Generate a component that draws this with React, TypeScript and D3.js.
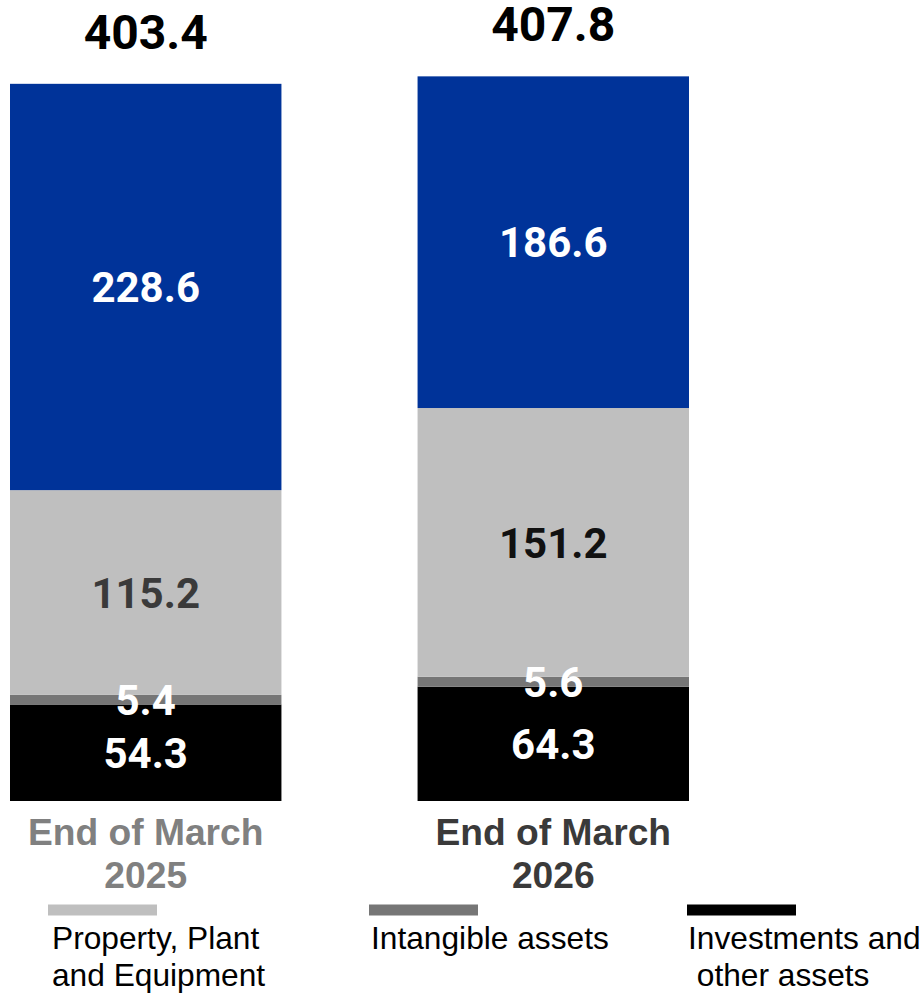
import React from "react";
import * as d3 from "d3";

const categories = ["End of March 2025", "End of March 2026"];
const categoryLines = [["End of March", "2025"], ["End of March", "2026"]];
const seriesNames = ["Investments and other assets", "Intangible assets", "Property, Plant and Equipment", "Other"];
const investments = [54.3, 64.3];
const intangible = [5.4, 5.6];
const ppe = [115.2, 151.2];
const other = [228.6, 186.6];
const totals = [403.4, 407.8];

const seriesColors = ["#000000", "#767676", "#BFBFBF", "#003399"];
const labelColors = [
  ["#ffffff", "#ffffff"],
  ["#ffffff", "#ffffff"],
  ["#3a3a3a", "#111111"],
  ["#ffffff", "#ffffff"],
];
const categoryColors = ["#808080", "#3a3a3a"];

const legendItems = [
  { lines: ["Property, Plant", "and Equipment"], color: "#BFBFBF", x: 48, tx: 52 },
  { lines: ["Intangible assets"], color: "#767676", x: 369, tx: 371 },
  { lines: ["Investments and", "\u00a0other assets"], color: "#000000", x: 687, tx: 688 },
];

export default function App() {
  const W = 922;
  const H = 994;
  const x = d3.scaleBand<string>().domain(categories).range([10, 689]).paddingInner(0.334).paddingOuter(0);
  const y = d3.scaleLinear().domain([0, 403.4]).range([801, 84]);

  const table = categories.map((c, i) => ({
    cat: c,
    s0: investments[i],
    s1: intangible[i],
    s2: ppe[i],
    s3: other[i],
  }));
  const stack = d3.stack<any>().keys(["s0", "s1", "s2", "s3"]);
  const layers = stack(table);

  const numFont = "Roboto, 'Liberation Sans', Arial, sans-serif";
  const textFont = "'Liberation Sans', Arial, sans-serif";

  return (
    <svg width={W} height={H} style={{ position: "absolute", left: 0, top: 0 }}>
      <rect width={W} height={H} fill="#fff" />
      {layers.map((layer, li) =>
        layer.map((d, ci) => {
          const cat = categories[ci];
          const x0 = x(cat)!;
          const y0 = y(d[1]);
          const y1 = y(d[0]);
          return (
            <rect key={`r${li}-${ci}`} x={x0} y={y0} width={x.bandwidth()} height={y1 - y0} fill={seriesColors[li]} />
          );
        })
      )}
      {layers.map((layer, li) =>
        layer.map((d, ci) => {
          const cat = categories[ci];
          const cx = x(cat)! + x.bandwidth() / 2;
          const cy = (y(d[1]) + y(d[0])) / 2;
          const v = d[1] - d[0];
          return (
            <text
              key={`t${li}-${ci}`}
              x={cx}
              y={cy}
              dy="0.36em"
              textAnchor="middle"
              fontFamily={numFont}
              fontWeight={700}
              fontSize={42}
              fill={labelColors[li][ci]}
            >
              {v.toFixed(1)}
            </text>
          );
        })
      )}
      {totals.map((t, i) => (
        <text
          key={`tot${i}`}
          x={x(categories[i])! + x.bandwidth() / 2}
          y={y(t) - 35}
          textAnchor="middle"
          fontFamily={numFont}
          fontWeight={700}
          fontSize={48}
          fill="#000"
        >
          {t.toFixed(1)}
        </text>
      ))}
      {categoryLines.map((lines, i) => (
        <text
          key={`c${i}`}
          textAnchor="middle"
          fontFamily={textFont}
          fontWeight={700}
          fontSize={37.2}
          fill={categoryColors[i]}
        >
          {lines.map((l, k) => (
            <tspan key={k} x={x(categories[i])! + x.bandwidth() / 2} y={845 + k * 43}>
              {l}
            </tspan>
          ))}
        </text>
      ))}
      {legendItems.map((it, i) => (
        <g key={`l${i}`}>
          <rect x={it.x} y={904.5} width={109} height={11} fill={it.color} />
          <text fontFamily={textFont} fontSize={31.7} fill="#000">
            {it.lines.map((l, k) => (
              <tspan key={k} x={it.tx} y={949 + k * 37}>
                {l}
              </tspan>
            ))}
          </text>
        </g>
      ))}
    </svg>
  );
}
